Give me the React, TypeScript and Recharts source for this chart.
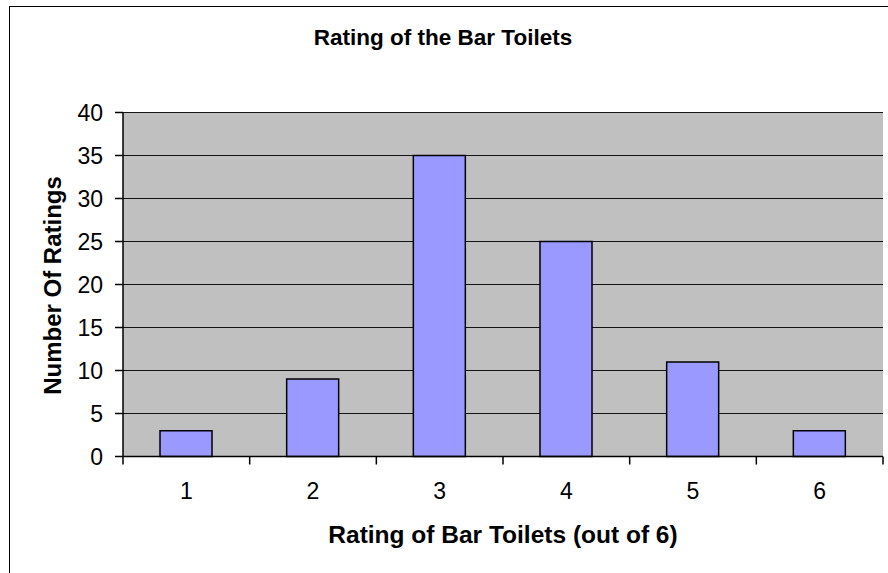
import React from 'react';
import { BarChart, Bar, XAxis, YAxis, CartesianGrid, Label } from 'recharts';

const ratings = [1, 2, 3, 4, 5, 6];
const ratingCounts = [3, 9, 35, 25, 11, 3];
const countTicks = [0, 5, 10, 15, 20, 25, 30, 35, 40];

const chartTitle = 'Rating of the Bar Toilets';
const xTitle = 'Rating of Bar Toilets (out of 6)';
const yTitle = 'Number Of Ratings';

const data = ratings.map((r, i) => ({ rating: r, count: ratingCounts[i] }));

const font = '"Liberation Sans", Arial, sans-serif';
const X_TICK_GAP = 26;

// tick marks sit on the category borders, labels in the middle
const XTick = (props: any) => {
  const { x, y, payload, index } = props;
  const half = payload && payload.offset ? payload.offset : 0;
  const axisY = y - X_TICK_GAP;
  const last = index === ratings.length - 1;
  return (
    <g>
      <line x1={x - half} x2={x - half} y1={axisY} y2={axisY + 8} stroke="#000" strokeWidth={1.5} />
      {last && <line x1={x + half} x2={x + half} y1={axisY} y2={axisY + 8} stroke="#000" strokeWidth={1.5} />}
      <text x={x} y={y} dy="0.71em" textAnchor="middle" fill="#000" fontSize={23} fontFamily={font}>
        {payload.value}
      </text>
    </g>
  );
};

const YTitle = (props: any) => {
  const vb = props.viewBox || { x: 0, y: 0, height: 0 };
  const cx = vb.x + 61;
  const cy = vb.y + vb.height / 2 + 1;
  return (
    <text
      x={cx}
      y={cy}
      transform={`rotate(-90 ${cx} ${cy})`}
      textAnchor="middle"
      fontFamily={font}
      fontSize={24}
      fontWeight="bold"
      fill="#000"
    >
      {yTitle}
    </text>
  );
};

export default function App() {
  return (
    <div style={{ position: 'absolute', left: 0, top: 0, width: 888, height: 573, background: '#fff', overflow: 'hidden' }}>
      <div
        style={{
          position: 'absolute',
          left: 9,
          top: 6,
          width: 879,
          height: 567,
          borderLeft: '1.5px solid #000',
          borderTop: '1.5px solid #000',
          boxSizing: 'border-box',
        }}
      />
      <div
        style={{
          position: 'absolute',
          left: 0,
          top: 25,
          width: 886,
          textAlign: 'center',
          fontFamily: font,
          fontSize: 22.5,
          fontWeight: 'bold',
          color: '#000',
        }}
      >
        {chartTitle}
      </div>
      <div style={{ position: 'absolute', left: 0, top: 0 }}>
        <BarChart width={888} height={573} data={data} margin={{ top: 112.5, right: 5, left: 0, bottom: 0 }}>
          <CartesianGrid vertical={false} fill="#C0C0C0" stroke="#000" strokeOpacity={0.9} />
          <XAxis
            dataKey="rating"
            type="category"
            height={116.5}
            axisLine={{ stroke: '#000', strokeWidth: 1.5 }}
            tickLine={false}
            tickSize={0}
            tickMargin={X_TICK_GAP}
            interval={0}
            tick={<XTick />}
          >
            <Label
              value={xTitle}
              position="insideBottom"
              offset={30}
              style={{ fill: '#000', fontSize: 24.5, fontWeight: 'bold', fontFamily: font }}
            />
          </XAxis>
          <YAxis
            width={123}
            domain={[0, 40]}
            ticks={countTicks}
            interval={0}
            tickSize={8}
            tickMargin={12}
            axisLine={{ stroke: '#000', strokeWidth: 1.5 }}
            tickLine={{ stroke: '#000', strokeWidth: 1.5 }}
            tick={{ fill: '#000', fontSize: 23, fontFamily: font }}
          >
            <Label content={YTitle} />
          </YAxis>
          <YAxis
            yAxisId="r"
            orientation="right"
            width={0}
            domain={[0, 40]}
            tick={false}
            tickLine={false}
            axisLine={{ stroke: '#808080', strokeWidth: 1.5 }}
          />
          <Bar
            dataKey="count"
            fill="#9999FF"
            stroke="#000"
            strokeWidth={1.5}
            barSize={52}
            isAnimationActive={false}
          />
        </BarChart>
      </div>
    </div>
  );
}
